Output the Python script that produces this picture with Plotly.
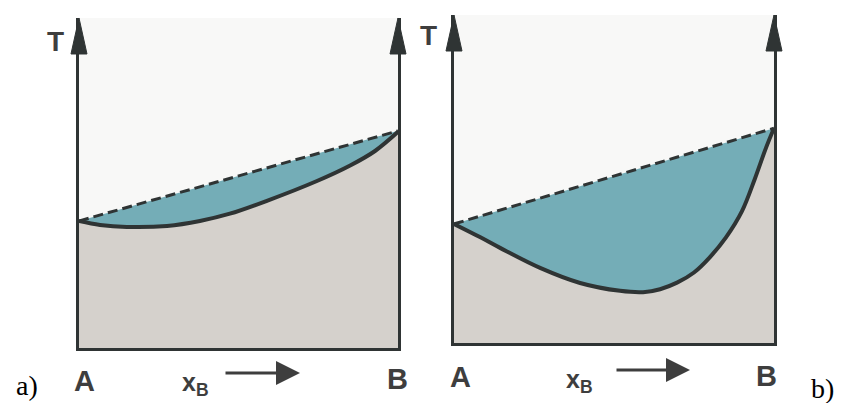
import plotly.graph_objects as go

W, H = 841, 403

# ---- data (x_B composition 0..1, T normalised 0..1) ----
xb_a = [0.0, 0.066, 0.150, 0.276, 0.379, 0.473, 0.589, 0.746, 0.850, 0.928, 1.0]
solidus_a = [0.385, 0.373, 0.367, 0.370, 0.385, 0.407, 0.446, 0.506, 0.553, 0.597, 0.655]
liq_x_a = [0.0, 1.0]
liquidus_a = [0.385, 0.658]

xb_b = [0.0, 0.081, 0.144, 0.269, 0.394, 0.519, 0.591, 0.644, 0.697, 0.75, 0.80, 0.85, 0.90, 0.94, 0.975, 1.0]
solidus_b = [0.363, 0.323, 0.290, 0.229, 0.183, 0.159, 0.155, 0.164, 0.184, 0.215, 0.262, 0.322, 0.402, 0.500, 0.595, 0.655]
liq_x_b = [0.0, 1.0]
liquidus_b = [0.363, 0.655]

end_labels = ["A", "B"]
axis_label = "x<sub>B</sub>"
temp_label = "T"
panel_labels = ["a)", "b)"]

# ---- style ----
GREY = "#d5d1cc"
TEAL = "#74adb7"
BG = "#f8f8f7"
INK = "#2f3434"
LBL = "#3e3e3e"

fig = go.Figure()

def px_x(p):
    return p / W

def px_y(p):
    return 1 - p / H

panels = [
    dict(x=xb_a, s=solidus_a, lx=liq_x_a, l=liquidus_a, xa="x", ya="y",
         dom_x=(79, 398), dom_y=(18, 348)),
    dict(x=xb_b, s=solidus_b, lx=liq_x_b, l=liquidus_b, xa="x2", ya="y2",
         dom_x=(454, 774), dom_y=(15, 343)),
]

ARROW_HALF_W = 8   # px
ARROW_LEN = 36     # px

shapes = []
for i, p in enumerate(panels):
    # grey solid region under solidus
    fig.add_trace(go.Scatter(x=p["x"], y=p["s"], mode="lines", line=dict(width=0, shape="spline", smoothing=1.0),
                             fill="tozeroy", fillcolor=GREY, xaxis=p["xa"], yaxis=p["ya"],
                             hoverinfo="skip", showlegend=False))
    # teal two-phase region between solidus and liquidus
    fig.add_trace(go.Scatter(x=p["lx"], y=p["l"], mode="lines",
                             line=dict(color=INK, width=3, dash="10px,5px"),
                             fill="tonexty", fillcolor=TEAL, xaxis=p["xa"], yaxis=p["ya"],
                             hoverinfo="skip", showlegend=False))
    # solidus line
    fig.add_trace(go.Scatter(x=p["x"], y=p["s"], mode="lines",
                             line=dict(color=INK, width=4, shape="spline", smoothing=1.0),
                             xaxis=p["xa"], yaxis=p["ya"], cliponaxis=False,
                             hoverinfo="skip", showlegend=False))
    # arrowheads on both vertical axes (paper coordinates, from the axis domains)
    top = p["dom_y"][0]
    for xe in p["dom_x"]:
        path = "M %f,%f L %f,%f L %f,%f Z" % (
            px_x(xe - ARROW_HALF_W), px_y(top + ARROW_LEN),
            px_x(xe), px_y(top),
            px_x(xe + ARROW_HALF_W), px_y(top + ARROW_LEN))
        shapes.append(dict(type="path", path=path, xref="paper", yref="paper",
                           fillcolor=INK, line=dict(color=INK, width=1), layer="above"))

axis_common = dict(showgrid=False, zeroline=False, showticklabels=False, ticks="",
                   showline=True, linecolor=INK, linewidth=2.5, fixedrange=True)

layout_axes = {}
for i, p in enumerate(panels):
    sx = "" if i == 0 else "2"
    layout_axes["xaxis" + sx] = dict(domain=[px_x(p["dom_x"][0]), px_x(p["dom_x"][1])], range=[0, 1],
                                     anchor="y" + sx, mirror=False, **axis_common)
    layout_axes["yaxis" + sx] = dict(domain=[px_y(p["dom_y"][1]), px_y(p["dom_y"][0])], range=[0, 1],
                                     anchor="x" + sx, mirror=True, **axis_common)

ann = []
sans = "Liberation Sans Narrow, Liberation Sans, Arial, sans-serif"
label_pos = [
    dict(T=(55, 42), A=(84, 381), B=(397, 379), xb=(195, 384), arr=(224, 300, 373), pl=(27, 385)),
    dict(T=(428, 36), A=(460, 377), B=(766, 376), xb=(579, 381), arr=(615, 690, 370), pl=(822, 388)),
]
for i, lp in enumerate(label_pos):
    ann.append(dict(text="<b>%s</b>" % temp_label, x=px_x(lp["T"][0]), y=px_y(lp["T"][1]), xref="paper", yref="paper",
                    showarrow=False, font=dict(family=sans, size=28, color=LBL), xanchor="center", yanchor="middle"))
    for lab, key in zip(end_labels, ["A", "B"]):
        ann.append(dict(text="<b>%s</b>" % lab, x=px_x(lp[key][0]), y=px_y(lp[key][1]), xref="paper", yref="paper",
                        showarrow=False, font=dict(family=sans, size=29, color=LBL), xanchor="center", yanchor="middle"))
    ann.append(dict(text="<b>%s</b>" % axis_label, x=px_x(lp["xb"][0]), y=px_y(lp["xb"][1]), xref="paper", yref="paper",
                    showarrow=False, font=dict(family=sans, size=25, color=LBL), xanchor="center", yanchor="middle"))
    x0, x1, yy = lp["arr"]
    ann.append(dict(text="", x=px_x(x1), y=px_y(yy), xref="paper", yref="paper",
                    ax=x0 - x1, ay=0, showarrow=True, arrowhead=2, arrowsize=1.6, arrowwidth=3,
                    arrowcolor=LBL))
    ann.append(dict(text=panel_labels[i], x=px_x(lp["pl"][0]), y=px_y(lp["pl"][1]), xref="paper", yref="paper",
                    showarrow=False, font=dict(family="Liberation Serif, Times New Roman, serif", size=28, color="#000"),
                    xanchor="center", yanchor="middle"))

fig.update_layout(width=W, height=H, autosize=False, margin=dict(l=0, r=0, t=0, b=0),
                  paper_bgcolor="white", plot_bgcolor=BG, annotations=ann, shapes=shapes, **layout_axes)

fig.write_html("out.html", config={"displayModeBar": False},
               post_script="document.body.style.margin='0';document.body.style.overflow='hidden';")
